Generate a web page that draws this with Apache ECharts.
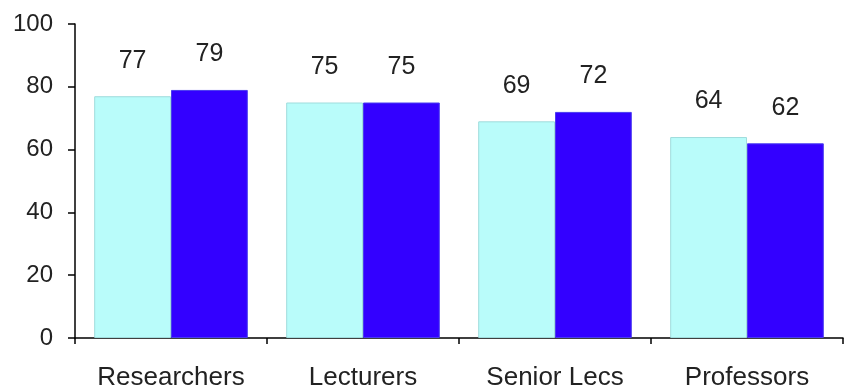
<!DOCTYPE html>
<html><head><meta charset="utf-8">
<script src="https://cdn.jsdelivr.net/npm/echarts@6/dist/echarts.min.js"></script>
<style>html,body{margin:0;padding:0;background:#fff}#c{width:851px;height:389px}</style>
</head><body><div id="c"></div>
<script>
const categories = ['Researchers', 'Lecturers', 'Senior Lecs', 'Professors'];
const seriesA = [77, 75, 69, 64];
const seriesB = [79, 75, 72, 62];
const yTicks = [0, 20, 40, 60, 80, 100];

const chart = echarts.init(document.getElementById('c'));
const font = 'Liberation Sans, Arial, sans-serif';
const lbl = {show: true, position: 'top', distance: 23, fontSize: 25, color: '#222', fontFamily: font};
chart.setOption({
  animation: false,
  grid: {left: 75, right: 8, top: 24, bottom: 51, outerBoundsMode: 'none', containLabel: false},
  xAxis: {
    type: 'category', data: categories,
    axisLine: {lineStyle: {color: '#000', width: 1.5}},
    axisTick: {show: true, length: 6, lineStyle: {color: '#000', width: 1.5}},
    axisLabel: {fontSize: 26, color: '#222', fontFamily: font, margin: 27}
  },
  yAxis: {
    type: 'value', min: yTicks[0], max: yTicks[yTicks.length - 1], interval: 20,
    splitLine: {show: false},
    axisLine: {show: true, lineStyle: {color: '#000', width: 1.5}},
    axisTick: {show: true, length: 7, lineStyle: {color: '#000', width: 1.5}},
    axisLabel: {fontSize: 24, color: '#222', fontFamily: font, margin: 22}
  },
  series: [
    {type: 'bar', data: seriesA, barGap: '0%', barCategoryGap: '20%',
     itemStyle: {color: '#b9fcfa', borderColor: '#9fdcdc', borderWidth: 1}, label: lbl},
    {type: 'bar', data: seriesB,
     itemStyle: {color: '#3300ff', borderColor: '#4a3cf0', borderWidth: 1}, label: lbl}
  ]
});
</script></body></html>
